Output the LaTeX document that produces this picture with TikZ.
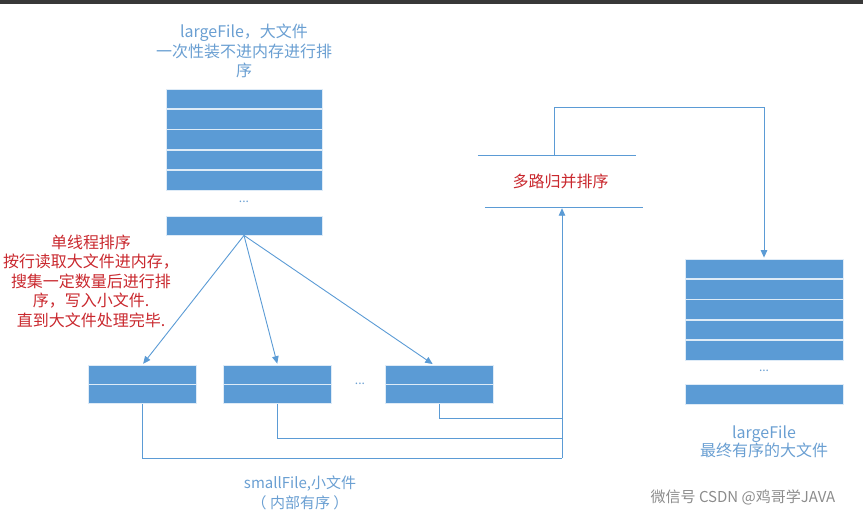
\documentclass[tikz,border=0pt]{standalone}
\usepackage{fontspec}
\setmainfont{Noto Sans CJK SC}
\usetikzlibrary{arrows.meta,positioning,calc}
\definecolor{fileblue}{HTML}{5B9BD5}
\definecolor{textblue}{HTML}{6A9FD2}
\definecolor{notered}{HTML}{C9282E}
\tikzset{
  row/.style       = {draw=white!80!fileblue, fill=fileblue, line width=0.8pt,
                      minimum width=156pt, minimum height=19.6pt, inner sep=0pt},
  small row/.style = {row, minimum width=108pt, minimum height=19pt},
  post/.style      = {-{Triangle[length=7.5pt,width=6.5pt]}, shorten >=1pt, fileblue, line width=0.9pt},
  link/.style      = {fileblue, line width=0.9pt},
  bluetext/.style  = {text=textblue, font=\fontsize{16}{19.5}\selectfont, align=center, inner sep=0pt},
  redtext/.style   = {text=notered, font=\fontsize{16}{19.5}\selectfont, align=center, inner sep=0pt},
  dots/.style      = {text=textblue, font=\fontsize{12}{12}\selectfont, inner sep=0pt}
}

\begin{document}
\begin{tikzpicture}[x=1pt,y=-1pt]
  \useasboundingbox (0,0) rectangle (863,515);
  \fill[black!78] (0,0) rectangle (863,4);

  % large input file
  \node[bluetext] (inTitle) at (244,51) {largeFile，大文件\\一次性装不进内存进行排\\序};
  \node[row] (in1) at (244,98.8) {};
  \node[row] (in2) [below=0pt of in1] {};
  \node[row] (in3) [below=0pt of in2] {};
  \node[row] (in4) [below=0pt of in3] {};
  \node[row] (in5) [below=0pt of in4] {};
  \node[dots] (inDots) at (244,202) {...};
  \node[row, minimum height=19pt] (inEnd) at (244,225.5) {};

  % small sorted files
  \node[small row] (s1a) at (142.5,374.5) {};
  \node[small row] (s1b) [below=0pt of s1a] {};
  \node[small row] (s2a) at (277.5,374.5) {};
  \node[small row] (s2b) [below=0pt of s2a] {};
  \node[small row] (s3a) at (439.5,374.5) {};
  \node[small row] (s3b) [below=0pt of s3a] {};
  \node[dots] (sDots) at (360,384) {...};
  \node[bluetext, font=\fontsize{15}{20}\selectfont] (sTitle) at (300,493) {smallFile,小文件\\（ 内部有序 ）};

  \draw[post] (inEnd.south) -- (s1a.north);
  \draw[post] (inEnd.south) -- (s2a.north);
  \draw[post] (inEnd.south) -- ([xshift=-6pt]s3a.north);

  \node[redtext] (note) at (91,281) {单线程排序\\按行读取大文件进内存，\\搜集一定数量后进行排\\序，写入小文件.\\直到大文件处理完毕.};

  % merge step
  \node[redtext, minimum width=158pt, minimum height=51pt] (merge) at (560.5,181.5) {多路归并排序};
  \draw[link] ([xshift=-3.5pt]merge.north west) -- ([xshift=-3.5pt]merge.north east);
  \draw[link] ([xshift=3.5pt]merge.south west) -- ([xshift=3.5pt]merge.south east);

  \coordinate (join)  at (562,458);
  \coordinate (join2) at (562,438);
  \coordinate (join3) at (562,418);
  \draw[link] (s1b.south) |- (join);
  \draw[link] (s2b.south) |- (join2);
  \draw[link] (s3b.south) |- (join3);
  \draw[post] (join) -- (join |- merge.south);

  % large output file
  \node[row, minimum width=158pt] (out1) at (764,268.8) {};
  \node[row, minimum width=158pt] (out2) [below=0pt of out1] {};
  \node[row, minimum width=158pt] (out3) [below=0pt of out2] {};
  \node[row, minimum width=158pt] (out4) [below=0pt of out3] {};
  \node[row, minimum width=158pt] (out5) [below=0pt of out4] {};
  \node[dots] (outDots) at (764,371) {...};
  \node[row, minimum width=158pt, minimum height=20pt] (outEnd) at (764,394) {};
  \node[bluetext, font=\fontsize{16}{18.5}\selectfont] (outTitle) at (764,442) {largeFile\\最终有序的大文件};

  \draw[post] ([xshift=-6.5pt]merge.north) -- ++(0,-48) -| (out1.north);

  \node[text=black!45, font=\fontsize{15}{15}\selectfont] (mark) at (743,497) {微信号 CSDN @鸡哥学JAVA};
\end{tikzpicture}
\end{document}
